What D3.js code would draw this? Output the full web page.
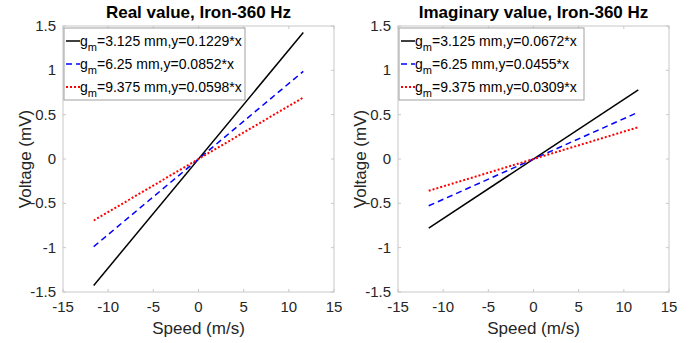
<!DOCTYPE html>
<html>
<head>
<meta charset="UTF-8">
<style>
  body { margin: 0; background: #fff; }
  svg text { font-family: "Liberation Sans", Arial, sans-serif; }
</style>
</head>
<body>
<div id="chart"></div>
<script src="https://d3js.org/d3.v7.min.js"></script>
<script>
// gaps and fitted slopes (mV per m/s)
const gaps = ["3.125", "6.25", "9.375"];
const realSlopes = [0.1229, 0.0852, 0.0598];
const imagSlopes = [0.0672, 0.0455, 0.0309];
const speedRange = [-11.6, 11.6];
const xTicks = [-15, -10, -5, 0, 5, 10, 15];
const yTicks = [-1.5, -1, -0.5, 0, 0.5, 1, 1.5];

const styles = [
  { color: "#000", dash: null, width: 1.5 },
  { color: "#0000ff", dash: "6,4", width: 1.5 },
  { color: "#ff0000", dash: "2,2", width: 2 }
];

const svg = d3.select("#chart").append("svg")
  .attr("width", 694).attr("height", 343);

function drawPanel(left, title, slopes, legendW) {
  const x = d3.scaleLinear().domain([-15, 15]).range([left, left + 271]);
  const y = d3.scaleLinear().domain([-1.5, 1.5]).range([292, 26]);
  const g = svg.append("g");

  // box
  g.append("rect")
    .attr("x", x(-15)).attr("y", y(1.5))
    .attr("width", x(15) - x(-15)).attr("height", y(-1.5) - y(1.5))
    .attr("fill", "none").attr("stroke", "#c8c8c8");

  // ticks inside
  xTicks.forEach(t => {
    g.append("line").attr("x1", x(t)).attr("x2", x(t)).attr("y1", y(-1.5)).attr("y2", y(-1.5) - 3).attr("stroke", "#c8c8c8");
    g.append("line").attr("x1", x(t)).attr("x2", x(t)).attr("y1", y(1.5)).attr("y2", y(1.5) + 3).attr("stroke", "#c8c8c8");
    g.append("text").attr("x", x(t)).attr("y", y(-1.5) + 20)
      .attr("text-anchor", "middle").attr("font-size", 15).attr("fill", "#262626")
      .text(t);
  });
  yTicks.forEach(t => {
    g.append("line").attr("x1", x(-15)).attr("x2", x(-15) + 3).attr("y1", y(t)).attr("y2", y(t)).attr("stroke", "#c8c8c8");
    g.append("line").attr("x1", x(15)).attr("x2", x(15) - 3).attr("y1", y(t)).attr("y2", y(t)).attr("stroke", "#c8c8c8");
    g.append("text").attr("x", x(-15) - 7).attr("y", y(t) + 5)
      .attr("text-anchor", "end").attr("font-size", 15).attr("fill", "#262626")
      .text(t);
  });

  // lines
  const line = d3.line().x(d => x(d[0])).y(d => y(d[1]));
  slopes.forEach((k, i) => {
    const pts = speedRange.map(s => [s, k * s]);
    g.append("path").datum(pts).attr("d", line)
      .attr("fill", "none").attr("stroke", styles[i].color)
      .attr("stroke-width", styles[i].width)
      .attr("stroke-dasharray", styles[i].dash);
  });

  // title
  g.append("text").attr("x", (x(-15) + x(15)) / 2).attr("y", 18)
    .attr("text-anchor", "middle").attr("font-size", 17).attr("font-weight", "bold")
    .attr("fill", "#000").text(title);

  // axis labels
  g.append("text").attr("x", (x(-15) + x(15)) / 2).attr("y", 334)
    .attr("text-anchor", "middle").attr("font-size", 17).attr("fill", "#262626")
    .text("Speed (m/s)");
  g.append("text")
    .attr("transform", `translate(${left - 32},${y(0)}) rotate(-90)`)
    .attr("text-anchor", "middle").attr("font-size", 17).attr("fill", "#262626")
    .text("Voltage (mV)");

  // legend
  const lg = g.append("g").attr("transform", `translate(${x(-15) + 1},${y(1.5) + 2})`);
  lg.append("rect").attr("width", legendW).attr("height", 72)
    .attr("fill", "#fff").attr("stroke", "#a0a0a0");
  slopes.forEach((k, i) => {
    const cy = 13 + i * 23;
    lg.append("line").attr("x1", 2).attr("x2", 16).attr("y1", cy).attr("y2", cy)
      .attr("stroke", styles[i].color).attr("stroke-width", styles[i].width)
      .attr("stroke-dasharray", styles[i].dash);
    const t = lg.append("text").attr("x", 16).attr("y", cy + 5)
      .attr("font-size", 14).attr("fill", "#000");
    t.append("tspan").text("g");
    t.append("tspan").attr("font-size", 11).attr("dy", 5).text("m");
    t.append("tspan").attr("dy", -5).text(`=${gaps[i]} mm,y=${k.toFixed(4)}*x`);
  });
}

drawPanel(63, "Real value, Iron-360 Hz", realSlopes, 181);
drawPanel(398, "Imaginary value, Iron-360 Hz", imagSlopes, 185);
</script>
</body>
</html>
